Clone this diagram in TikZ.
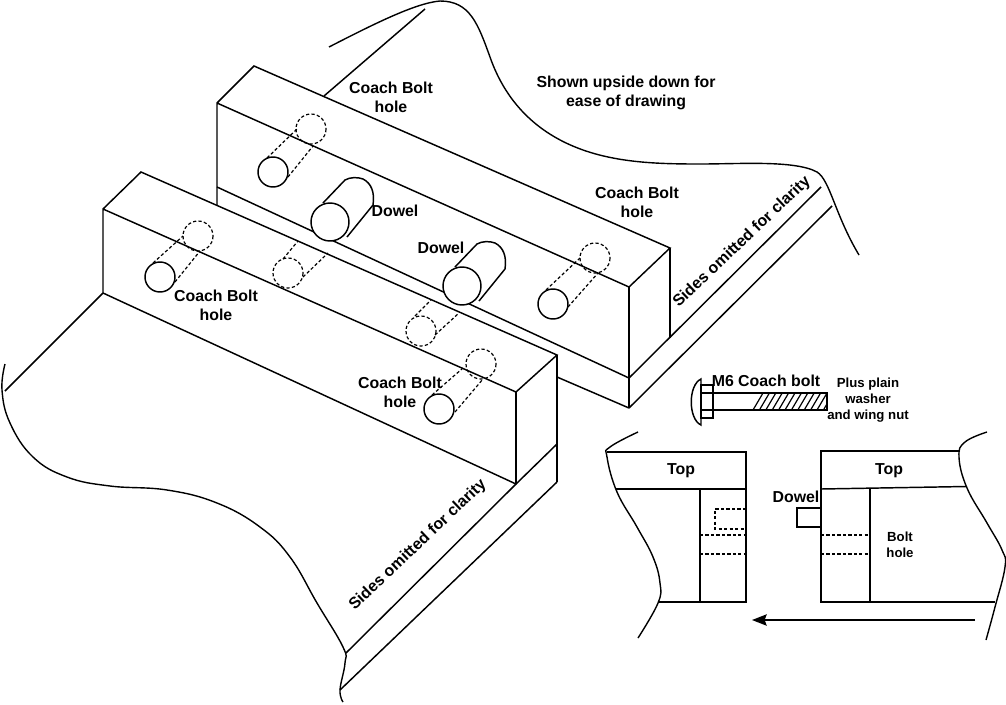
\documentclass[tikz,border=0pt]{standalone}
\usepackage{fontspec}
\setmainfont{Liberation Sans}
\usetikzlibrary{arrows.meta}
\tikzset{
  edge/.style={line width=1.1pt,line join=miter},
  curve/.style={line width=1.05pt,smooth,tension=0.7},
  hid/.style={line width=0.9pt,dash pattern=on 2.4pt off 1.7pt},
  lbl/.style={inner sep=0pt,anchor=base,align=center,font=\bfseries\fontsize{11.9}{14.25}\selectfont},
  lblsmall/.style={inner sep=0pt,anchor=base,align=center,font=\bfseries\fontsize{9.9}{12}\selectfont},
  side/.style={inner sep=0pt,anchor=center,font=\bfseries\fontsize{12}{14.25}\selectfont}
}
\begin{document}
\begin{tikzpicture}[x=0.75pt,y=-0.75pt]
\useasboundingbox (0,0) rectangle (1006,704);
% back block
\draw[edge] (217,205) -- (217,103) -- (254,66) -- (670,248) -- (629,287) -- (217,103);
\draw[edge] (629,287) -- (629,408);
\draw[edge] (670,248) -- (670,338);
\draw[edge] (217,187) -- (629,378);
\draw[edge] (557,377) -- (629,408);
\draw[edge] (629,378) -- (821,187);
\draw[edge] (629,408) -- (832,206);
\draw[edge] (324,96) -- (425,9);
% front block
\draw[edge] (103,293) -- (103,209) -- (141,172) -- (557,355) -- (516,392) -- (103,209);
\draw[edge] (516,392) -- (516,484);
\draw[edge] (557,355) -- (557,482);
\draw[edge] (103,293) -- (516,484) -- (557,444);
\draw[edge] (103,293) -- (5,391);
\draw[edge] (516,484) -- (346,653);
\draw[edge] (557,482) -- (340,690);
% boundary curves
\draw[line width=1.05pt] (329,47) .. controls (370,26) and (415,3) .. (440,1)
  .. controls (470,1) and (478,24) .. (490,57)
  .. controls (505,100) and (535,133) .. (583,150)
  .. controls (620,163) and (660,164) .. (700,164)
  .. controls (740,164) and (795,160) .. (817,172)
  .. controls (830,180) and (835,215) .. (859,255);
\draw[curve] plot coordinates {(5,364) (2,390) (10,423) (33,457) (67,477) (110,486) (167,490) (217,503) (260,527) (290,557) (317,603) (343,647) (345,663) (340,690) (343,702)};
% holes
\draw[edge] (273,172) circle (15);
\draw[hid] (311,129) circle (15);
\draw[hid] (267,158) -- (297,129);
\draw[hid] (288,177) -- (313,146);
\draw[edge] (160,277) circle (15);
\draw[hid] (198,236) circle (15);
\draw[hid] (153,263) -- (183,236);
\draw[hid] (175,282) -- (200,251);
\draw[hid] (288,273) circle (15);
\draw[hid] (283,259) -- (298,241);
\draw[hid] (303,277) -- (328,253);
\draw[edge] (553,304) circle (15);
\draw[hid] (595,258) circle (15);
\draw[hid] (546,290) -- (580,258);
\draw[hid] (568,307) -- (598,273);
\draw[hid] (421,331) circle (15);
\draw[hid] (415,316) -- (431,300);
\draw[hid] (435,335) -- (459,313);
\draw[edge] (439,409) circle (15);
\draw[hid] (481,364) circle (15);
\draw[hid] (432,395) -- (463,368);
\draw[hid] (455,412) -- (483,379);
% dowels
\foreach \dx/\dy in {0/0,132/64}{
  \begin{scope}[shift={(\dx,\dy)}]
  \draw[edge,fill=white] (323,203) -- (345,180) .. controls (350,177) and (358,177) .. (363,179) .. controls (371,183) and (375,192) .. (373,205) -- (347,237);
  \draw[edge,fill=white] (330,222) circle (19);
  \end{scope}
}
% bolt
\draw[edge] (701,379) .. controls (688,385) and (688,419) .. (701,425) -- cycle;
\draw[edge] (701,385) rectangle (713,418);
\draw[edge] (701,393) -- (827,393) -- (827,410) -- (701,410);
\begin{scope}
\clip (713,393) rectangle (827,410);
\foreach \k in {0,...,11}{\draw[line width=0.9pt] ({753+6.4*\k},410) -- ({763+6.4*\k},393);}
\end{scope}
% left section
\draw[edge] (607,452) -- (746,452) -- (746,602) -- (658,602);
\draw[edge] (616,489) -- (746,489);
\draw[edge] (700,489) -- (700,602);
\draw[hid] (746,509) -- (715,509) -- (715,529) -- (746,529);
\draw[hid] (700,535) -- (746,535);
\draw[hid] (700,554) -- (746,554);
\draw[curve] plot coordinates {(638,432) (610,447) (607,457) (617,492) (637,527) (653,557) (660,583) (658,603) (638,638)};
% right section
\draw[edge] (960,451) -- (821,451) -- (821,602) -- (995,602);
\draw[edge] (821,489) -- (966,486.5);
\draw[edge] (870,489) -- (870,602);
\draw[hid] (821,535) -- (870,535);
\draw[hid] (821,554) -- (870,554);
\draw[edge] (821,508) -- (797,508) -- (797,527) -- (821,527);
\draw[curve] plot coordinates {(987,432) (965,442) (959,457) (967,488) (987,523) (1002,550) (1005,567) (995,607) (986,640)};
% arrow
\coordinate (arrowstart) at (975,620);
\coordinate (arrowend) at (752,620);
\draw[edge,-{Stealth[length=11pt,width=8.5pt,inset=1.5pt]}] (arrowstart) -- (arrowend);
% labels
\node[lbl] (t1) at (391,112) {Coach Bolt\\hole};
\node[lbl] (t2) at (626,106) {Shown upside down for\\ease of drawing};
\node[lbl] (t3) at (637,217) {Coach Bolt\\hole};
\node[lbl] (t4) at (395,216) {Dowel};
\node[lbl] (t5) at (441,253) {Dowel};
\node[lbl] (t6) at (216,320) {Coach Bolt\\hole};
\node[lbl] (t7) at (400,407) {Coach Bolt\\hole};
\node[side,rotate=43.5] (t8) at (742,242) {Sides omitted for clarity};
\node[side,rotate=43.5] (t9) at (418,545) {Sides omitted for clarity};
\node[lbl] (t10) at (766,386) {M6 Coach bolt};
\node[lblsmall] (t11) at (868,419) {Plus plain\\washer\\and wing nut};
\node[lbl] (t12) at (681,474) {Top};
\node[lbl] (t13) at (889,474) {Top};
\node[lbl] (t14) at (796,502) {Dowel};
\node[lblsmall] (t15) at (900,557) {Bolt\\hole};
\end{tikzpicture}
\end{document}
